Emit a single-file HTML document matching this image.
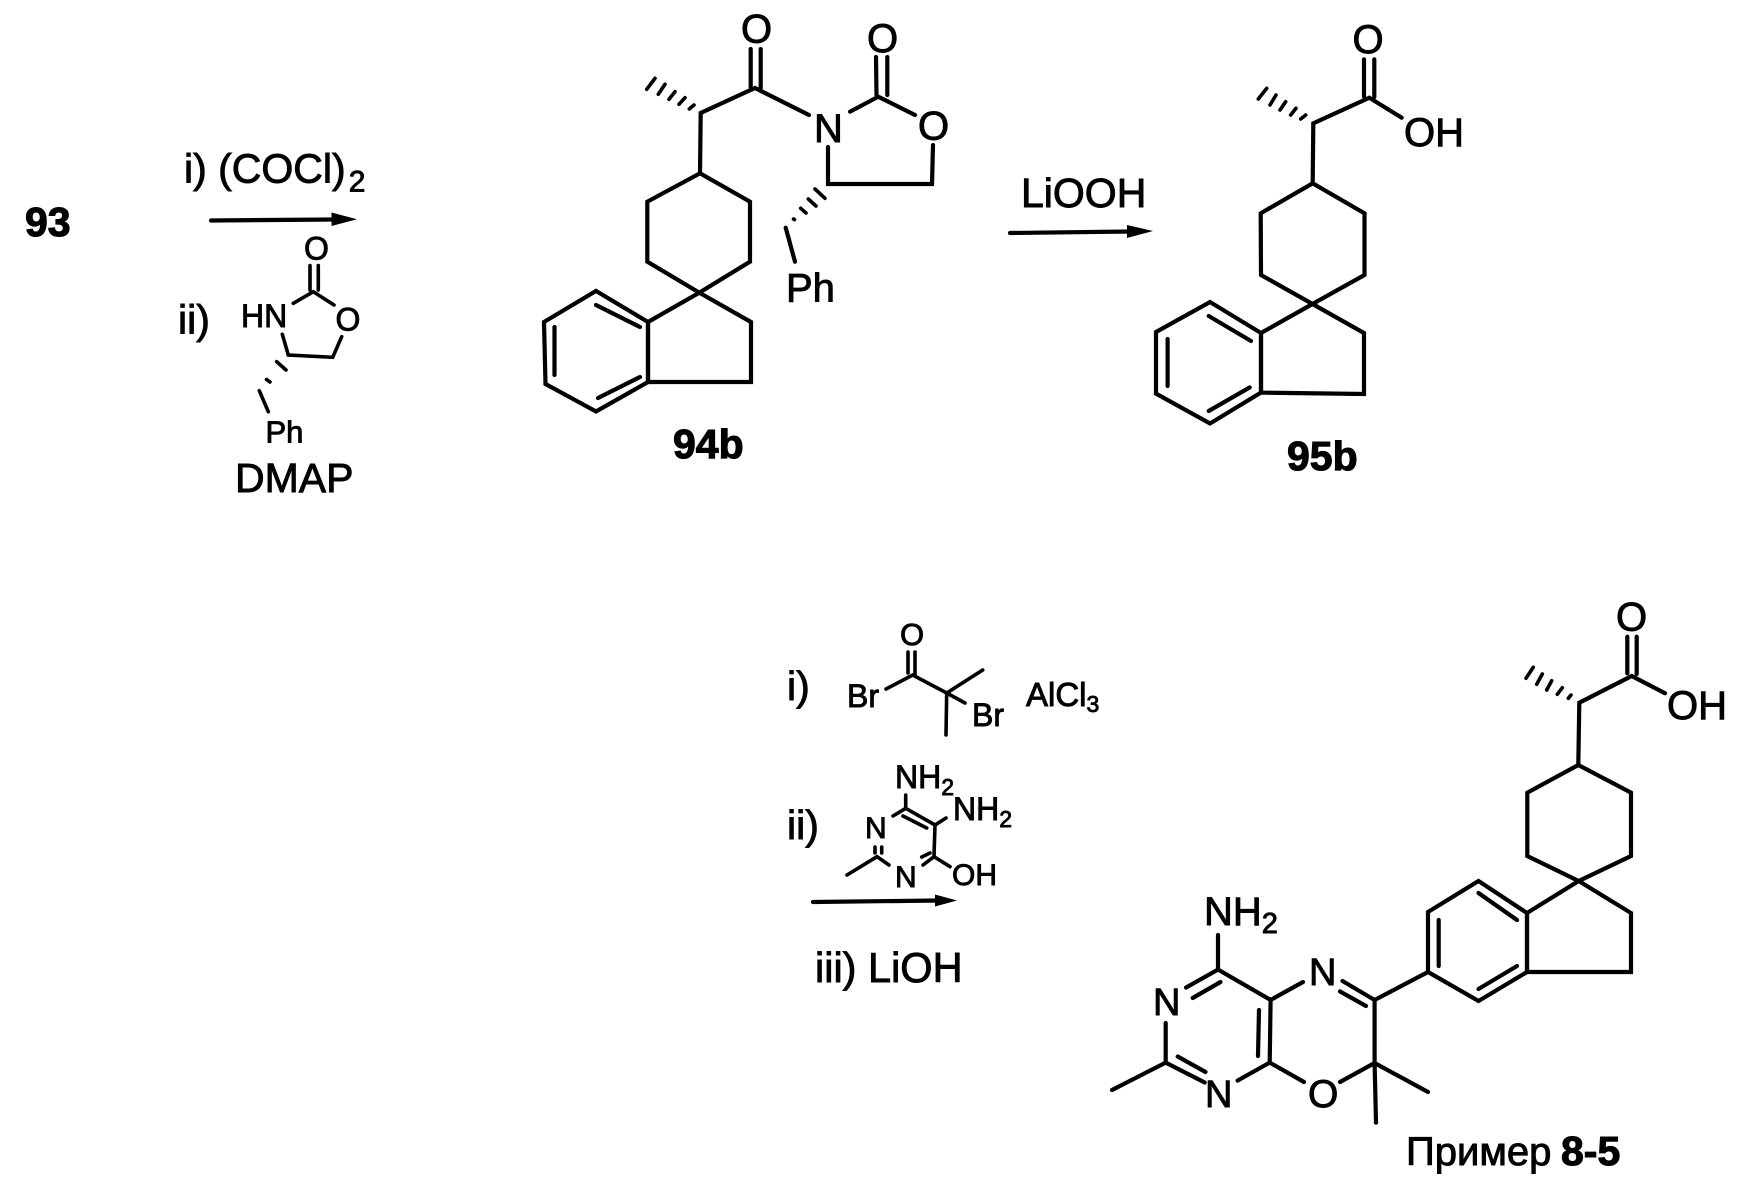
<!DOCTYPE html>
<html><head><meta charset="utf-8"><style>
html,body{margin:0;padding:0;background:#fff}
svg{display:block}
text{font-family:"Liberation Sans",sans-serif;fill:#000;stroke:#000;stroke-width:.9}
.b{font-weight:bold;stroke-width:1.1}
.l{fill:none;stroke:#000;stroke-width:4.2;stroke-linecap:round;stroke-linejoin:miter}
.t{fill:none;stroke:#000;stroke-width:3.6;stroke-linecap:round}
</style></head><body>
<svg width="1761" height="1185" viewBox="0 0 1761 1185" xmlns="http://www.w3.org/2000/svg">
<rect width="1761" height="1185" fill="#fff"/>
<!-- top left labels -->
<text class="b" x="25" y="236" font-size="41">93</text>
<text x="184" y="182.500" font-size="41">i) (COCl)<tspan font-size="30" dx="3" dy="9">2</tspan></text>
<path class="l" d="M211 220.500L334 219.500"/><path d="M331.500 212.500L357 219.300L331.500 226Z"/>
<text x="178" y="333.500" font-size="41">ii)</text>
<text x="235" y="492" font-size="41">DMAP</text>
<!-- reagent oxazolidinone -->
<text x="241" y="327" font-size="32">HN</text>
<text x="304" y="259.500" font-size="32">O</text>
<text x="335.500" y="330.500" font-size="32">O</text>
<text x="265.500" y="442.700" font-size="31">Ph</text>
<g class="t">
<path d="M310 265.500V290M318.300 265.500V290"/>
<path d="M293.300 303.300L313.300 291.700L334 305"/>
<path d="M341.700 336.700L332.700 357.300L288.300 355L282.300 334.300"/>
<path d="M276.700 361.700L286 370M266.500 379.500L270 382M259.300 390.700L268.300 411.700"/>
</g>
<!-- 94b -->
<g class="l">
<path d="M750.700 49V87M760.700 49V88"/>
<path d="M809 115L755 88L700.700 113L700 173.300"/>
<path d="M700 173.300L647.300 201.700V261.700L699.300 292.700L750 261.700V201.700Z"/>
<path d="M699.300 292.700L648 322V382H751V322L699.300 292.700"/>
<path d="M648 322L596 291L544 322L545.500 384L596 411.500L648 382Z"/>
<path d="M596 305L640 327M554.500 327V375M598 398L640 377"/>
<path d="M828 147V184H932L933 145"/>
<path d="M850 111.700L878.300 96.700L915 115"/>
<path d="M876 57L876.500 95M887.300 57V95"/>
<path d="M785.700 227.700L795 261.700"/>
</g>
<g class="t">
<path d="M646.700 89.300L655 78.300M658.300 94.300L665 84.300M669 99.300L675 91.700M679 104.300L685 97.700M689.300 109L694 105"/>
<path d="M815 189L825 198.300M808.300 199L816 206M800.700 208.300L806 213M793.500 219L794.500 219.600"/>
</g>
<text x="741" y="42.500" font-size="40">O</text>
<text x="867" y="52" font-size="40">O</text>
<text x="814" y="142" font-size="40">N</text>
<text x="918" y="139.500" font-size="40">O</text>
<text x="786" y="301.500" font-size="40">Ph</text>
<text class="b" x="673" y="458" font-size="41">94b</text>
<!-- arrow 2 -->
<text x="1021" y="207" font-size="41">LiOOH</text>
<path class="l" d="M1010 233L1130 231.500"/><path d="M1127 225L1153 231L1127 238Z"/>
<!-- 95b -->
<g class="l">
<path d="M1364 59.300V96.700M1374.300 59.300V97"/>
<path d="M1401.700 117.700L1369.300 97.700L1313.300 123.300L1312.700 183.300"/>
<path d="M1312.700 183.300L1260.700 213.300L1261 275L1312.500 304L1364.500 275V213.300Z"/>
<path d="M1312.500 304L1261 333V392.600L1364 394V333L1312.500 304"/>
<path d="M1261 333L1210 302L1156 332V393.600L1210 423.500L1261 392.600Z"/>
<path d="M1208.700 316L1251 341M1167.600 339V386M1208.700 411L1249.700 387.400"/>
</g>
<g class="t">
<path d="M1258.300 99L1266.700 88.300M1270 105L1276 95M1280 110L1285.700 101.700M1290.700 115L1296 108.300M1300.700 119L1305.700 115"/>
</g>
<text x="1352.500" y="53" font-size="40">O</text>
<text x="1404" y="146" font-size="40">OH</text>
<text class="b" x="1287" y="470" font-size="41">95b</text>
<!-- lower reagents -->
<text x="787" y="700" font-size="41">i)</text>
<text x="900" y="645" font-size="31">O</text>
<text x="847" y="707" font-size="32">Br</text>
<text x="972" y="726" font-size="32">Br</text>
<text x="1026" y="706" font-size="33">AlCl<tspan font-size="23" dy="6">3</tspan></text>
<g class="t">
<path d="M908 652V673M915 652V674"/>
<path d="M886 689L912.700 675L946.700 693L982.700 670M946.700 693L965 703M946.700 693L946 735"/>
</g>
<text x="787" y="839" font-size="41">ii)</text>
<text x="895" y="788" font-size="32">NH<tspan font-size="23" dy="7">2</tspan></text>
<text x="953" y="820" font-size="32">NH<tspan font-size="23" dy="7">2</tspan></text>
<text x="865" y="838" font-size="30">N</text>
<text x="895" y="887" font-size="30">N</text>
<text x="952" y="885" font-size="30">OH</text>
<g class="t">
<path d="M905.700 795V808.300M893 816L905.700 808.300L935 825L946 818M903 816L926.700 828"/>
<path d="M935 825L934 856.700L950 866.700M934 856.700L923 865M921.700 857L930 853"/>
<path d="M889 865L877 856.700L847 875M875 847V853M881.700 847V853"/>
</g>
<path class="l" d="M813 902L938 900.500"/><path d="M935 894.500L957 900.500L935 906.500Z"/>
<text x="815" y="982" font-size="41.500">iii) LiOH</text>
<!-- product -->
<g class="l">
<path d="M1627.300 636.700V673.300M1636.700 636.700V674"/>
<path d="M1665 693.300L1631.700 676L1579.300 702.700L1578.300 765"/>
<path d="M1578.300 765L1527.300 792.700V856L1578.700 881L1631 856V792.700Z"/>
<path d="M1578.700 881L1527 913V972H1631V913L1578.700 881"/>
<path d="M1527 913L1478.500 881L1428 912V972L1478.500 1001L1527 972Z"/>
<path d="M1478.500 893L1517 920M1438.700 920V966M1478.500 989L1517 966"/>
<path d="M1428 972L1374.600 1000L1342.500 981M1366 1006L1340 991.400"/>
<path d="M1303 982L1270.600 1000L1218 969.600V935M1218 969.600L1186 987.600M1192.700 998L1220.500 982"/>
<path d="M1165.700 1023V1062.600L1112 1090M1165.700 1062.600L1204.700 1082.500M1177.700 1056.500L1205.500 1072"/>
<path d="M1237.600 1080.600L1269.700 1062.600L1304 1082M1270.600 1000L1269.700 1062.600M1259 1010L1258 1056"/>
<path d="M1340 1082L1374.600 1063L1374.600 1000M1374.600 1063L1376 1122.700M1374.600 1063L1428 1092"/>
</g>
<g class="t">
<path d="M1526 678.300L1533.300 667.300M1536.700 684.300L1542.300 674M1546.700 690L1551.700 680.700M1557.300 694.300L1562.300 687.700M1568.300 698.300L1571 695"/>
</g>
<text x="1616" y="630.500" font-size="40">O</text>
<text x="1667" y="719" font-size="40">OH</text>
<text x="1204" y="925" font-size="40">NH<tspan font-size="29" dy="8">2</tspan></text>
<text x="1309" y="985" font-size="38">N</text>
<text x="1153" y="1015" font-size="38">N</text>
<text x="1205" y="1107" font-size="38">N</text>
<text x="1308" y="1107" font-size="39">O</text>
<text x="1406" y="1165" font-size="40">Пример</text>
<text class="b" x="1561" y="1165" font-size="41">8-5</text>
</svg>
</body></html>
